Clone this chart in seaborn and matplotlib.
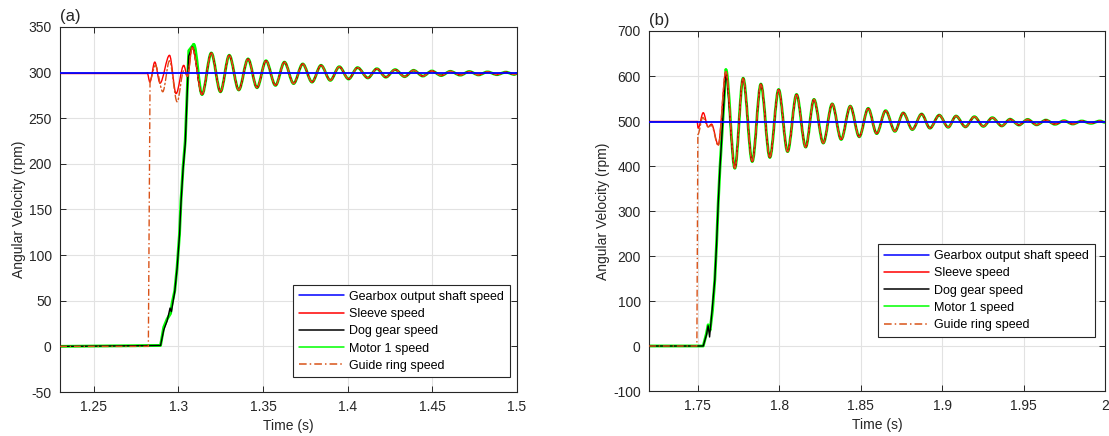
import numpy as np
import pandas as pd
import matplotlib
matplotlib.use("Agg")
import matplotlib.pyplot as plt
from matplotlib.path import Path
from matplotlib.patches import PathPatch
import seaborn as sns

# ---------------- data: panel (a) ----------------
a_blue_t = [1.23, 1.5]
a_blue_v = [299.5, 299.5]

# shared damped oscillation after engagement (peaks / troughs), panel (a)
a_osc_t = [1.3139, 1.3194, 1.3248, 1.3300, 1.3356, 1.3411, 1.3464, 1.3517, 1.3573,
           1.3626, 1.3680, 1.3734, 1.3789, 1.3842, 1.3897, 1.3950, 1.4005, 1.4058,
           1.4119, 1.4172, 1.4225, 1.4280, 1.4336, 1.4389, 1.4444, 1.4497, 1.4552,
           1.4606, 1.4665, 1.4718, 1.4773, 1.4826, 1.4881, 1.4934, 1.4984, 1.5]
a_osc_v = [276, 321.5, 279, 319, 281, 315, 283.5, 313, 286,
           311.5, 288, 309.5, 289.6, 308, 291.5, 306.5, 293, 305.5,
           294.2, 304.3, 295, 303.3, 295.6, 302.5, 296.2, 301.8, 296.8,
           301.4, 297.2, 301.2, 297.5, 300.8, 297.8, 300.5, 298, 299]

# head: straight part, wave: extremes joined by smooth curves
a_sleeve_head_t = [1.23, 1.2815]
a_sleeve_head_v = [300, 300]
a_sleeve_wave_t = [1.2815, 1.2831, 1.2860, 1.2891, 1.2947, 1.2986, 1.3031, 1.3053, 1.3081]
a_sleeve_wave_v = [300, 289.6, 311.6, 288.5, 319, 277, 308, 296, 328]

a_guide_head_t = [1.23, 1.2822, 1.2832]
a_guide_head_v = [0, 0, 292]
a_guide_wave_t = [1.2832, 1.2864, 1.2907, 1.2947, 1.2992, 1.3031, 1.3053, 1.3081]
a_guide_wave_v = [292, 308, 279, 313, 268, 302, 296, 327]

a_motor_head_t = [1.23, 1.2894, 1.2913, 1.2933, 1.2953, 1.2962, 1.2978, 1.2992, 1.3006,
                  1.3015, 1.3027, 1.3040, 1.3061, 1.3090]
a_motor_head_v = [0, 1, 21, 30, 36, 47, 61, 87, 123, 160, 196, 225, 324, 331]

a_dog_head_t = [1.23, 1.2894, 1.2913, 1.2933, 1.2950, 1.2958, 1.2978, 1.2992, 1.3006,
                1.3015, 1.3027, 1.3040, 1.3060, 1.3081]
a_dog_head_v = [0, 1, 18, 28, 42, 38, 60, 86, 122, 158, 194, 222, 318, 328]

# ---------------- data: panel (b) ----------------
b_blue_t = [1.72, 2.0]
b_blue_v = [497, 497]

b_osc_t = [1.7727, 1.7778, 1.7834, 1.7887, 1.7942, 1.7996, 1.8051, 1.8106, 1.8162,
           1.8213, 1.8270, 1.8325, 1.8380, 1.8436, 1.8491, 1.8546, 1.8598, 1.8653,
           1.8710, 1.8761, 1.8817, 1.8874, 1.8925, 1.8982, 1.9037, 1.9085, 1.9143,
           1.9198, 1.9253, 1.9308, 1.9366, 1.9417, 1.9472, 1.9525, 1.9580, 1.9637,
           1.9693, 1.9748, 1.9802, 1.9857, 1.9914, 1.9969, 2.0]
b_osc_v = [395, 595, 410, 582, 419, 570, 432, 559, 442,
           548, 451, 538, 459, 533, 465, 528, 472, 523,
           477, 518, 481, 515.5, 484, 513, 486, 511, 487,
           509.6, 488, 507.4, 489, 504, 491, 503.5, 491.5, 502,
           492.6, 500.7, 493.3, 500, 494.8, 500, 497]

b_sleeve_head_t = [1.72, 1.7495]
b_sleeve_head_v = [499, 499]
b_sleeve_wave_t = [1.7495, 1.7502, 1.7533, 1.7563, 1.7584, 1.7625, 1.7672]
b_sleeve_wave_v = [499, 484, 518.5, 487, 493, 447, 609.6]

b_guide_head_t = [1.72, 1.7494, 1.7500]
b_guide_head_v = [0, 0, 470]
b_guide_wave_t = [1.7500, 1.7530, 1.7563, 1.7584, 1.7625, 1.7672]
b_guide_wave_v = [470, 508, 487, 490, 445, 609.6]

b_motor_head_t = [1.72, 1.7533, 1.7553, 1.7563, 1.7575, 1.7590, 1.7604, 1.7615, 1.7625,
                  1.7635, 1.7672]
b_motor_head_v = [0, 0, 28, 47, 35, 80, 147, 228, 317, 391, 614]

b_dog_head_t = [1.72, 1.7533, 1.7553, 1.7563, 1.7572, 1.7585, 1.7604, 1.7615, 1.7625,
                1.7635, 1.7670]
b_dog_head_v = [0, 0, 25, 45, 20, 70, 147, 228, 317, 391, 606]

labels = ["Gearbox output shaft speed", "Sleeve speed", "Dog gear speed",
          "Motor 1 speed", "Guide ring speed"]

a_xticks = [1.25, 1.3, 1.35, 1.4, 1.45, 1.5]
a_xticklabels = ["1.25", "1.3", "1.35", "1.4", "1.45", "1.5"]
a_yticks = [-50, 0, 50, 100, 150, 200, 250, 300, 350]
b_xticks = [1.75, 1.8, 1.85, 1.9, 1.95, 2.0]
b_xticklabels = ["1.75", "1.8", "1.85", "1.9", "1.95", "2"]
b_yticks = [-100, 0, 100, 200, 300, 400, 500, 600, 700]

# ---------------- style ----------------
sns.set_theme(style="ticks")
plt.rcParams['font.family'] = ['Liberation Sans', 'DejaVu Sans']
TXT = "#262626"

COL = {"blue": "#0000ff", "red": "#ff0000", "black": "#000000",
       "green": "#00ff00", "orange": "#D95319"}
DASHDOT = (0, (5, 2, 1, 2))

fig = plt.figure(figsize=(11.09, 4.36), dpi=100)
ax_a = fig.add_axes([60 / 1109, 1 - 392 / 436, 457 / 1109, 365 / 436])
ax_b = fig.add_axes([649 / 1109, 1 - 391 / 436, 456 / 1109, 360 / 436])


def smooth_wave(ax, ts, vs, color, lw, z, ls="-"):
    """Join successive extremes with smooth (horizontal-tangent) curves."""
    verts = [(ts[0], vs[0])]
    codes = [Path.MOVETO]
    for i in range(len(ts) - 1):
        t0, v0, t1, v1 = ts[i], vs[i], ts[i + 1], vs[i + 1]
        dt = t1 - t0
        verts += [(t0 + dt / 3, v0), (t1 - dt / 3, v1), (t1, v1)]
        codes += [Path.CURVE4] * 3
    patch = PathPatch(Path(verts, codes), fill=False, edgecolor=color, lw=lw,
                      linestyle=ls, zorder=z, transform=ax.transData,
                      capstyle="round", joinstyle="round")
    ax.add_patch(patch)


def draw(ax, blue, sleeve_h, sleeve_w, dog_h, motor_h, guide_h, guide_w, osc):
    ot, ov = osc
    specs = [
        (motor_h, [(motor_h[0][-1], motor_h[1][-1])], COL["green"], 2.1, 2, "-", labels[3]),
        (dog_h, [(dog_h[0][-1], dog_h[1][-1])], COL["black"], 1.0, 3, "-", labels[2]),
        (sleeve_h, list(zip(*sleeve_w)), COL["red"], 1.0, 4, "-", labels[1]),
        (guide_h, list(zip(*guide_w)), COL["orange"], 1.0, 5, DASHDOT, labels[4]),
    ]
    for head, wave_pts, color, lw, z, ls, lab in specs:
        sns.lineplot(x=head[0], y=head[1], ax=ax, color=color, lw=lw, sort=False,
                     estimator=None, label=lab, zorder=z, linestyle=ls)
        wt = [p[0] for p in wave_pts] + list(ot)
        wv = [p[1] for p in wave_pts] + list(ov)
        smooth_wave(ax, wt, wv, color, lw, z, ls)
    sns.lineplot(x=blue[0], y=blue[1], ax=ax, color=COL["blue"], lw=1.3, sort=False,
                 estimator=None, label=labels[0], zorder=6)


draw(ax_a, (a_blue_t, a_blue_v), (a_sleeve_head_t, a_sleeve_head_v),
     (a_sleeve_wave_t, a_sleeve_wave_v), (a_dog_head_t, a_dog_head_v),
     (a_motor_head_t, a_motor_head_v), (a_guide_head_t, a_guide_head_v),
     (a_guide_wave_t, a_guide_wave_v), (a_osc_t, a_osc_v))
draw(ax_b, (b_blue_t, b_blue_v), (b_sleeve_head_t, b_sleeve_head_v),
     (b_sleeve_wave_t, b_sleeve_wave_v), (b_dog_head_t, b_dog_head_v),
     (b_motor_head_t, b_motor_head_v), (b_guide_head_t, b_guide_head_v),
     (b_guide_wave_t, b_guide_wave_v), (b_osc_t, b_osc_v))


def style(ax, xlim, ylim, xt, xtl, yt, title, leg_anchor):
    ax.set_xlim(*xlim)
    ax.set_ylim(*ylim)
    ax.set_xticks(xt)
    ax.set_xticklabels(xtl)
    ax.set_yticks(yt)
    ax.set_yticklabels([str(v) for v in yt])
    ax.grid(True, color="#e2e2e2", lw=0.8, zorder=0)
    ax.set_axisbelow(True)
    for s in ax.spines.values():
        s.set_visible(True)
        s.set_color(TXT)
        s.set_linewidth(0.8)
    ax.tick_params(direction="in", top=True, right=True, length=4, width=0.7,
                   colors=TXT, labelsize=10, pad=6)
    ax.set_xlabel("Time (s)", fontsize=10, color=TXT, labelpad=3)
    ax.set_ylabel("Angular Velocity (rpm)", fontsize=10, color=TXT, labelpad=2)
    ax.set_title(title, loc="left", fontsize=12, color=TXT, pad=4)
    h, l = ax.get_legend_handles_labels()
    order = [l.index(x) for x in labels]
    leg = ax.legend([h[i] for i in order], [l[i] for i in order],
                    loc="lower right", bbox_to_anchor=leg_anchor, borderaxespad=0,
                    fontsize=9, frameon=True, fancybox=False, shadow=False,
                    handlelength=3.6, handletextpad=0.45, labelspacing=0.42,
                    borderpad=0.45)
    leg.get_frame().set_edgecolor(TXT)
    leg.get_frame().set_linewidth(0.8)
    leg.get_frame().set_alpha(1)
    for t in leg.get_texts():
        t.set_color("#000000")
    for ln in leg.get_lines():
        ln.set_linewidth(1.1)


style(ax_a, (1.23, 1.5), (-50, 350), a_xticks, a_xticklabels, a_yticks, "(a)",
      (0.984, 0.04))
style(ax_b, (1.72, 2.0), (-100, 700), b_xticks, b_xticklabels, b_yticks, "(b)",
      (0.978, 0.151))

fig.savefig("out.png", dpi=100)
